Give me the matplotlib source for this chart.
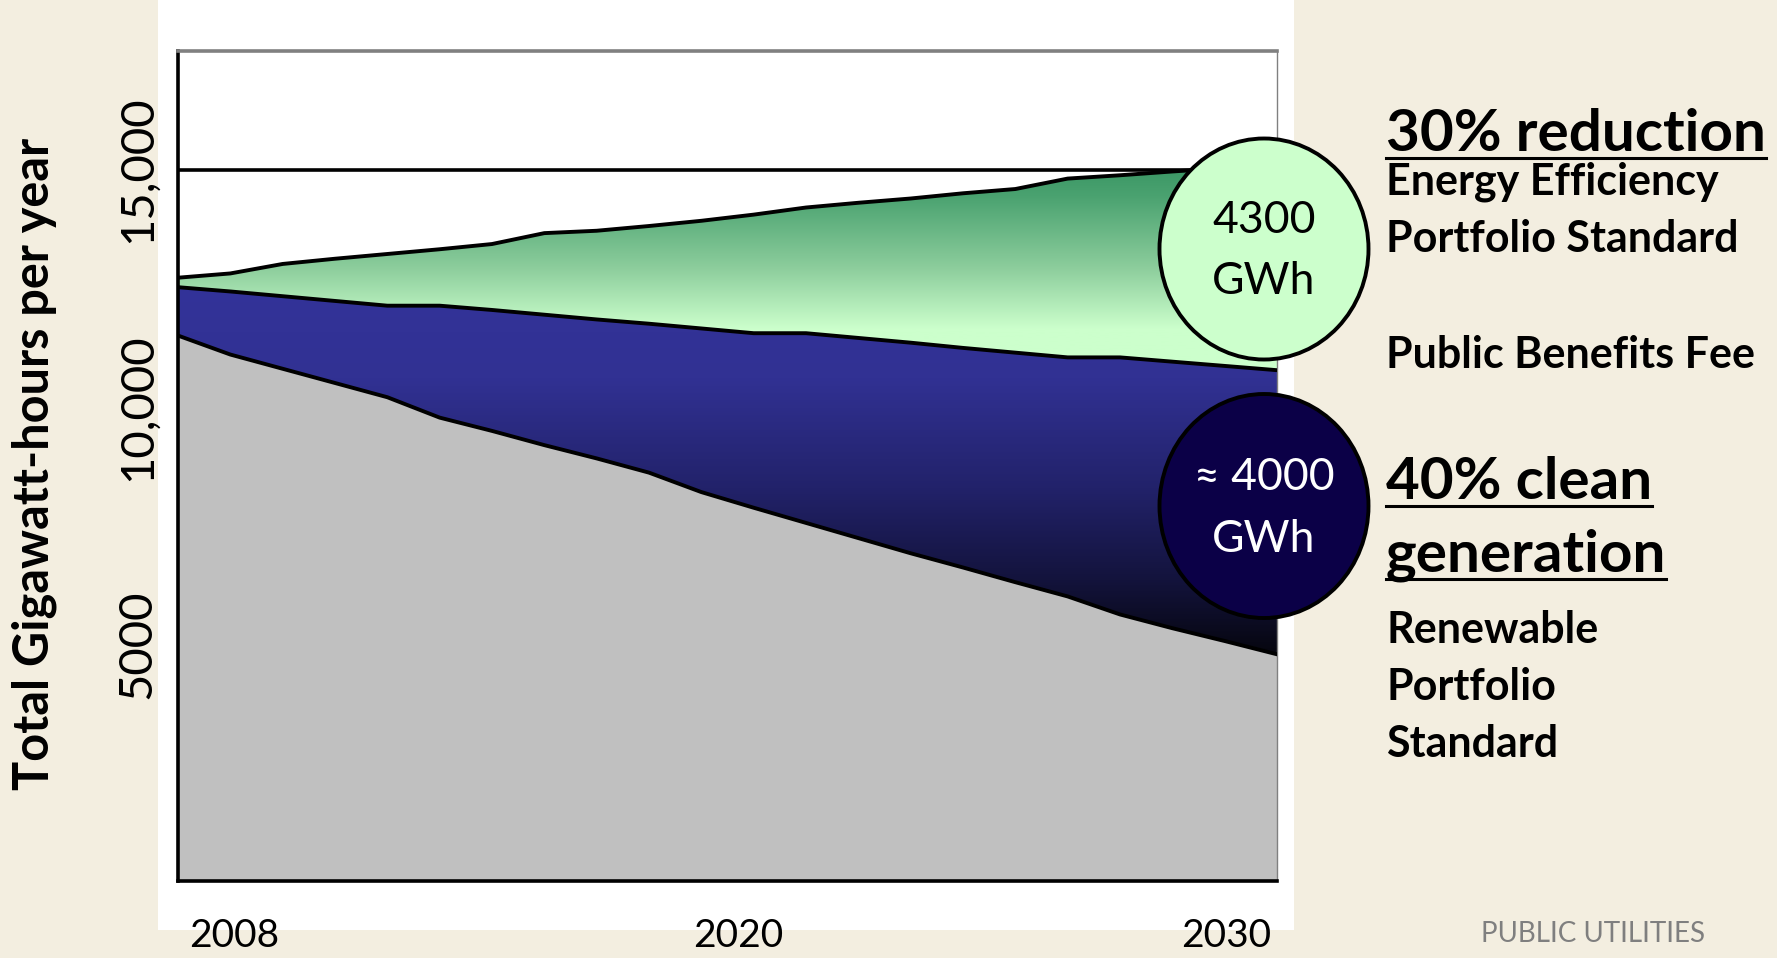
import matplotlib.pyplot as plt
import numpy as np
from matplotlib.patches import Polygon, Rectangle, Ellipse
from matplotlib.colors import LinearSegmentedColormap
from matplotlib.lines import Line2D

plt.rcParams['font.family'] = ['Lato', 'DejaVu Sans']

# data (stack tops, GWh per year)
years = [2009, 2010, 2011, 2012, 2013, 2014, 2015, 2016, 2017, 2018, 2019,
         2020, 2021, 2022, 2023, 2024, 2025, 2026, 2027, 2028, 2029, 2030]
other_top = [11500, 11100, 10800, 10500, 10200, 9770, 9490, 9190, 8910, 8610, 8200,
             7870, 7550, 7230, 6910, 6610, 6300, 6000, 5620, 5330, 5060, 4780]
clean_top = [12520, 12430, 12330, 12230, 12130, 12130, 12040, 11940, 11840, 11750, 11650,
             11550, 11550, 11450, 11350, 11240, 11140, 11040, 11040, 10950, 10860, 10770]
demand_top = [12720, 12810, 13010, 13120, 13220, 13320, 13430, 13660, 13710, 13810, 13920,
              14050, 14200, 14300, 14390, 14500, 14590, 14810, 14880, 14960, 15030, 15080]
y_ticks = [5000, 10000, 15000]
y_labels = ['5000', '10,000', '15,000']
x_labels = ['2008', '2020', '2030']

W, H = 1777, 958
fig = plt.figure(figsize=(W / 100, H / 100), dpi=100, facecolor='#f3eee0')

# white chart panel behind the plot
fig.patches.append(Rectangle((158 / W, 1 - 930 / H), (1294 - 158) / W, 930 / H,
                             transform=fig.transFigure, facecolor='white',
                             edgecolor='none', zorder=-10))

ax = fig.add_axes([178 / W, 1 - 881 / H, (1277 - 178) / W, (881 - 51) / H])
ax.set_facecolor('white')

x = np.array(years)
other = np.array(other_top)
clean = np.array(clean_top)
demand = np.array(demand_top)


def gradient_area(lo, hi, cmap):
    verts = list(zip(x, hi)) + list(zip(x[::-1], lo[::-1]))
    poly = Polygon(verts, closed=True, facecolor='none', edgecolor='none')
    ax.add_patch(poly)
    grad = np.linspace(0, 1, 256).reshape(-1, 1)
    im = ax.imshow(grad, extent=[x[0], x[-1], lo.min(), hi.max()], origin='upper',
                   aspect='auto', cmap=cmap, zorder=2)
    im.set_clip_path(poly)


green_cm = LinearSegmentedColormap.from_list(
    'g', [(0, '#3a9664'), (0.15, '#4aa270'), (0.5, '#8ccd9c'), (0.8, '#ccffcc'), (1, '#ccffcc')])
blue_cm = LinearSegmentedColormap.from_list(
    'b', [(0, '#333399'), (0.25, '#313193'), (0.55, '#22226a'), (0.8, '#13133c'), (1, '#06060f')])

ax.fill_between(x, 0, other, facecolor='#c0c0c0', edgecolor='none', zorder=2)
gradient_area(other, clean, blue_cm)
gradient_area(clean, demand, green_cm)

for s in (other, clean, demand):
    ax.plot(x, s, color='black', lw=2.8, zorder=4, solid_joinstyle='round')

ax.set_xlim(x[0], x[-1])
ax.set_ylim(0, 17500)
ax.set_yticks(y_ticks)
ax.set_yticklabels(y_labels, rotation=90, va='center', fontsize=34)
ax.tick_params(axis='y', length=0, pad=14)
ax.set_xticks([])
ax.yaxis.grid(True, color='black', lw=2.6, zorder=1)
ax.set_axisbelow(True)

for side in ('left', 'bottom'):
    ax.spines[side].set_color('black')
    ax.spines[side].set_linewidth(2.6)
ax.spines['top'].set_color('#808080')
ax.spines['top'].set_linewidth(2.6)
ax.spines['right'].set_color('#808080')
ax.spines['right'].set_linewidth(1)

# year labels under the axis
ax.text(0.01, -0.079, x_labels[0], transform=ax.transAxes, ha='left', va='baseline', fontsize=28)
ax.text(0.51, -0.079, x_labels[1], transform=ax.transAxes, ha='center', va='baseline', fontsize=28)
ax.text(0.995, -0.079, x_labels[2], transform=ax.transAxes, ha='right', va='baseline', fontsize=28)

fig.text(34 / W, 1 - 464 / H, 'Total Gigawatt-hours per year', rotation=90, ha='center',
         va='center', fontsize=35, fontweight='bold')

# circles
fig.patches.append(Ellipse((1264 / W, 1 - 249 / H), 209 / W, 221 / H, transform=fig.transFigure,
                           facecolor='#ccffcc', edgecolor='black', lw=2.8, zorder=5))
fig.patches.append(Ellipse((1264 / W, 1 - 506 / H), 209 / W, 224 / H, transform=fig.transFigure,
                           facecolor='#0b0047', edgecolor='black', lw=2.8, zorder=5))
fig.text(1264 / W, 1 - 221 / H, '4300', ha='center', va='center', fontsize=32, zorder=6)
fig.text(1264 / W, 1 - 281 / H, 'GWh', ha='center', va='center', fontsize=32, zorder=6)
fig.text(1264 / W, 1 - 478 / H, '≈ 4000', ha='center', va='center', fontsize=32, color='white', zorder=6)
fig.text(1264 / W, 1 - 539 / H, 'GWh', ha='center', va='center', fontsize=32, color='white', zorder=6)

# right-hand notes
notes = [
    ('30% reduction', 151, 42, True),
    ('Energy Efficiency', 195, 31, False),
    ('Portfolio Standard', 252, 31, False),
    ('Public Benefits Fee', 368, 31, False),
    ('40% clean', 499, 42, True),
    ('generation', 572, 42, True),
    ('Renewable', 643, 31, False),
    ('Portfolio', 700, 31, False),
    ('Standard', 757, 31, False),
]
renderer = fig.canvas.get_renderer()
for txt, base, size, under in notes:
    t = fig.text(1386 / W, 1 - base / H, txt, ha='left', va='baseline', fontsize=size,
                 fontweight='bold')
    if under:
        bb = t.get_window_extent(renderer)
        uy = 1 - (base + 7) / H
        fig.lines.append(Line2D([bb.x0 / W, bb.x1 / W], [uy, uy], transform=fig.transFigure,
                                color='black', lw=2.2))

fig.text(1481 / W, 1 - 942 / H, 'PUBLIC UTILITIES', ha='left', va='baseline', fontsize=20,
         color='#7f7f7f')

fig.savefig('out.png', dpi=100, facecolor=fig.get_facecolor())
